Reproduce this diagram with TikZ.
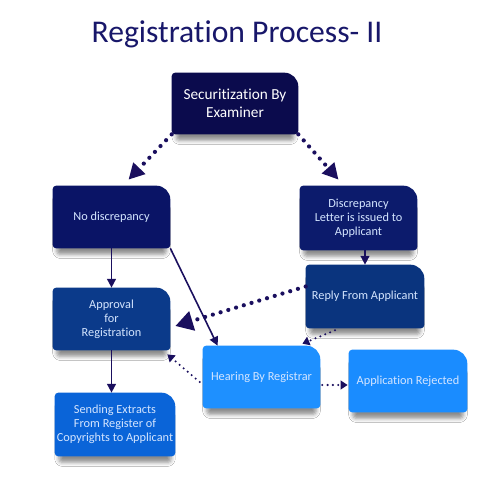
\documentclass[tikz,border=0pt]{standalone}
\usepackage{fontspec}
\setmainfont{Carlito}[Ligatures=NoCommon]
\usetikzlibrary{arrows.meta,backgrounds,shadows.blur}

\definecolor{titleblue}{HTML}{18176A}
\definecolor{arrowblue}{HTML}{1A0F5E}
\definecolor{cardtext}{HTML}{D4E5FF}
\definecolor{secblue}{HTML}{0B0B4D}
\definecolor{nodiscblue}{HTML}{0A1466}
\definecolor{discblue}{HTML}{0C1B6C}
\definecolor{replyblue}{HTML}{0A347E}
\definecolor{approvalblue}{HTML}{0B3A8A}
\definecolor{hearingblue}{HTML}{1E90FF}
\definecolor{rejectblue}{HTML}{1A8CFF}
\definecolor{sendblue}{HTML}{0A64D8}

% card background: small corners, big top right corner
\newcommand\cardfill[2]{%
  \fill[#2, blur shadow={shadow xshift=0pt, shadow yshift=-5pt, shadow scale=0.93, shadow opacity=45, shadow blur radius=2.5pt}]
    ([xshift=2pt]#1.south west) arc[start angle=270, end angle=180, radius=2pt]
    -- ([yshift=-2pt]#1.north west) arc[start angle=180, end angle=90, radius=2pt]
    -- ([xshift=-8pt]#1.north east) arc[start angle=90, end angle=0, radius=8pt]
    -- ([yshift=2pt]#1.south east) arc[start angle=0, end angle=-90, radius=2pt]
    -- cycle;}

\begin{document}
\begin{tikzpicture}[x=0.02cm, y=-0.02cm,
    card/.style={minimum width=2.34cm, minimum height=1.24cm, align=center, inner sep=1pt,
      text=cardtext, font=\fontsize{7}{8}\selectfont},
    flow/.style={arrowblue, line width=0.9pt, -{Triangle[length=5pt, width=5pt]}},
    bigdots/.style={arrowblue, line width=2.4pt, line cap=round, dash pattern=on 0pt off 4.6pt,
      -{Triangle[length=9pt, width=9pt]}},
    smalldots/.style={arrowblue, line width=1.3pt, line cap=round, dash pattern=on 0pt off 3pt,
      -{Triangle[length=4pt, width=5pt]}}]
    \useasboundingbox (0,0) rectangle (500,500);

    % Title
    \node[font=\fontsize{18}{21}\selectfont, text=titleblue] (title) at (237,34) {Registration Process- II};

    % Cards
    \node[card, minimum width=2.52cm, minimum height=1.22cm, text=white, font=\fontsize{8.7}{10}\selectfont] (sec) at (235,103.5) {Securitization By\\Examiner};
    \node[card] (nodisc) at (111.5,217) {No discrepancy};
    \node[card, minimum height=1.28cm] (disc) at (358.5,218) {Discrepancy\\Letter is issued to\\Applicant};
    \node[card, minimum width=2.36cm, minimum height=1.26cm] (reply) at (365,296.5) {Reply From Applicant};
    \node[card] (approval) at (111.5,319) {Approval\\for\\Registration};
    \node[card] (hearing) at (261.5,377) {Hearing By Registrar};
    \node[card, minimum width=2.36cm] (rejected) at (408,381) {Application Rejected};
    \node[card, minimum width=2.32cm, minimum height=1.26cm] (sending) at (115,424.5) {Sending Extracts\\From Register of\\Copyrights to Applicant};

    \begin{scope}[on background layer]
        \fill[white] (0,0) rectangle (500,500);
        \foreach \n/\c in {sec/secblue, nodisc/nodiscblue, disc/discblue, reply/replyblue,
            approval/approvalblue, hearing/hearingblue, rejected/rejectblue, sending/sendblue}
            \cardfill{\n}{\c};
    \end{scope}

    % Connectors
    \draw[bigdots] (sec.south west) -- ([shift={(17,-6)}]nodisc.north);
    \draw[bigdots] (sec.south east) -- ([shift={(-20,-6)}]disc.north);
    \draw[flow] (nodisc.south) -- (approval.north);
    \draw[flow] (nodisc.south east) -- ([shift={(15,0)}]hearing.north west);
    \draw[flow] (reply.north |- disc.south) -- (reply.north);
    \draw[bigdots, -{Triangle[length=10pt, width=11pt]}] ([shift={(0,-10)}]reply.west) -- ([shift={(5,7)}]approval.east);
    \draw[smalldots] ([shift={(-30,2)}]reply.south) -- ([shift={(-18,-2)}]hearing.north east);
    \draw[smalldots] ([shift={(-3,5)}]hearing.west) -- ([shift={(-3,4)}]approval.south east);
    \draw[smalldots] ([shift={(2,8)}]hearing.east) -- ([shift={(-1,4)}]rejected.west);
    \draw[flow] (approval.south) -- (approval.south |- sending.north);
\end{tikzpicture}
\end{document}
